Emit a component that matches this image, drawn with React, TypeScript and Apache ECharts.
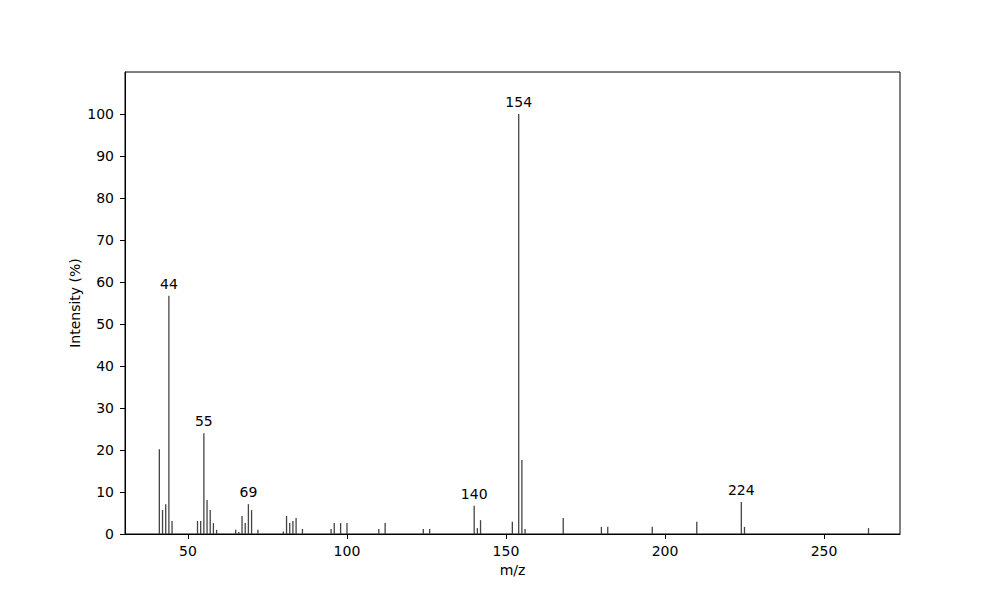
import React, { useEffect, useRef } from "react";
import * as echarts from "echarts";

// m/z positions and relative intensities (%)
const mzValues = [
  41, 42, 43, 44, 45, 53, 54, 55, 56, 57, 58, 59, 65, 66, 67, 68, 69, 70, 72,
  80, 81, 82, 83, 84, 86, 95, 96, 98, 100, 110, 112, 124, 126,
  140, 141, 142, 152, 154, 155, 156, 168, 180, 182, 196, 210, 224, 225, 264,
];
const intensities = [
  20.2, 5.7, 7.1, 56.7, 3.1, 3.1, 3.1, 24.0, 8.1, 5.7, 2.6, 1.0, 1.0, 0.5, 4.3, 2.6, 7.1, 5.7, 1.0,
  0.6, 4.3, 2.6, 3.1, 3.8, 1.2, 1.2, 2.6, 2.6, 2.6, 1.2, 2.6, 1.2, 1.2,
  6.7, 1.4, 3.3, 2.9, 100, 17.6, 1.2, 3.8, 1.7, 1.7, 1.7, 2.9, 7.6, 1.7, 1.4,
];
const labeledPeaks = [44, 55, 69, 140, 154, 224];
const xTicks = [50, 100, 150, 200, 250];
const yTicks = [0, 10, 20, 30, 40, 50, 60, 70, 80, 90, 100];

const App: React.FC = () => {
  const chartRef = useRef<HTMLDivElement>(null);

  useEffect(() => {
    if (!chartRef.current) return;
    const myChart = echarts.init(chartRef.current, null, { renderer: "svg" });

    const font = "DejaVu Sans";
    const data = mzValues.map((mz, i) => ({
      value: [mz, intensities[i]],
      label: { show: labeledPeaks.includes(mz) },
    }));

    const option: any = {
      animation: false,
      backgroundColor: "#ffffff",
      grid: {
        left: 125,
        right: 100,
        top: 72,
        bottom: 66,
        show: true,
        borderColor: "#000000",
        borderWidth: 1,
        backgroundColor: "transparent",
      },
      xAxis: {
        type: "value",
        min: 30.2,
        max: 273.9,
        name: "m/z",
        nameLocation: "middle",
        nameGap: 29,
        nameMoveOverlap: false,
        nameTextStyle: { color: "#000", fontSize: 14, fontFamily: font },
        axisLine: { show: true, onZero: false, lineStyle: { color: "#000", width: 1 } },
        axisTick: { show: true, length: 5, customValues: xTicks, lineStyle: { color: "#000" } },
        axisLabel: {
          customValues: xTicks,
          color: "#000",
          fontSize: 14,
          fontFamily: font,
          margin: 10,
        },
        splitLine: { show: false },
      },
      yAxis: {
        type: "value",
        min: 0,
        max: 110,
        name: "Intensity (%)",
        nameLocation: "middle",
        nameGap: 43,
        nameMoveOverlap: false,
        nameTextStyle: { color: "#000", fontSize: 14, fontFamily: font },
        axisLine: { show: true, lineStyle: { color: "#000", width: 1 } },
        axisTick: { show: true, length: 5, customValues: yTicks, lineStyle: { color: "#000" } },
        axisLabel: {
          customValues: yTicks,
          color: "#000",
          fontSize: 14,
          fontFamily: font,
          margin: 11,
        },
        splitLine: { show: false },
      },
      series: [
        {
          type: "bar",
          data: data,
          barWidth: 1.3,
          itemStyle: { color: "#444444" },
          label: {
            position: "top",
            distance: 5,
            color: "#000",
            fontSize: 14,
            fontFamily: font,
            formatter: (p: any) => String(p.value[0]),
          },
        },
      ],
    };

    myChart.setOption(option);
    return () => {
      myChart.dispose();
    };
  }, []);

  return (
    <div
      ref={chartRef}
      style={{ position: "fixed", left: 0, top: 0, width: 1000, height: 600 }}
    />
  );
};

export default App;
